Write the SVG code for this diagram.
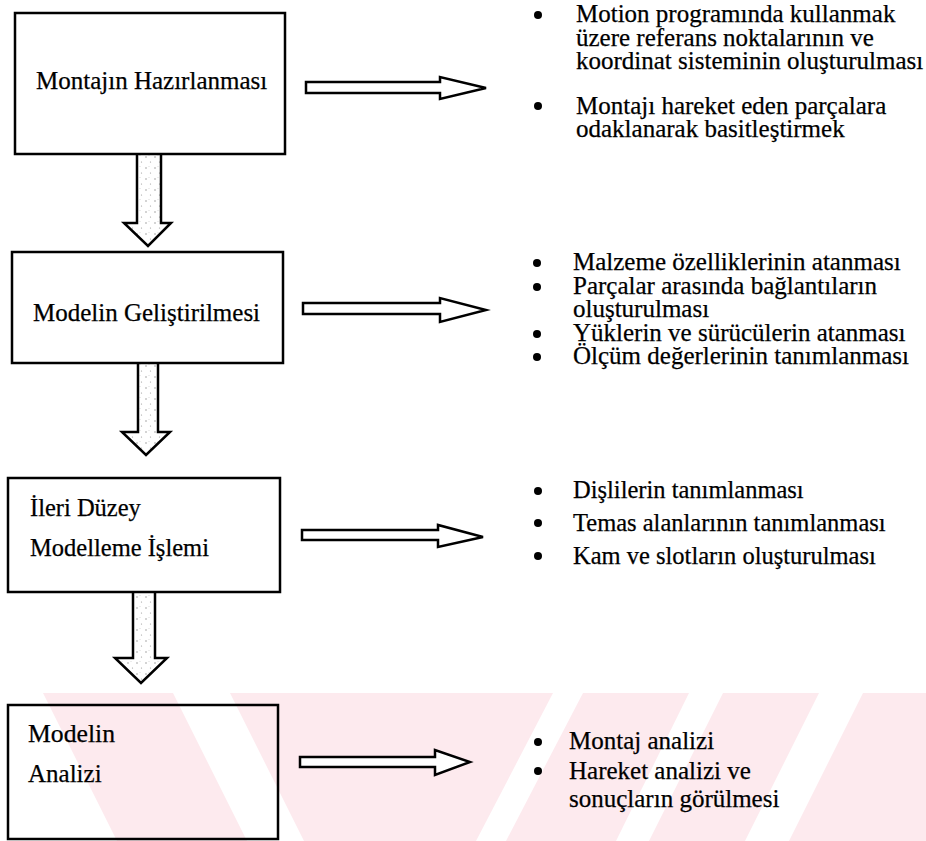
<svg xmlns="http://www.w3.org/2000/svg" width="926" height="841" viewBox="0 0 926 841">
<defs>
<pattern id="stip" width="9" height="11" patternUnits="userSpaceOnUse">
<rect width="9" height="11" fill="#ffffff"/>
<circle cx="2" cy="3" r="0.7" fill="#8a8a8a"/>
<circle cx="6.5" cy="8" r="0.6" fill="#9a9a9a"/>
<circle cx="5" cy="1.5" r="0.4" fill="#b0b0b0"/>
</pattern>
<style>
.box{fill:none;stroke:#000;stroke-width:2.5}
.t{font-size:25px;fill:#000;stroke:#000;stroke-width:0.25}
.s{font-size:24.5px}
.down{fill:url(#stip);stroke:#000;stroke-width:2.5;stroke-linejoin:miter}
.right{fill:#fff;stroke:#000;stroke-width:2.5;stroke-linejoin:miter}
.wm{fill:#fdeaee}
</style>
</defs>
<rect width="926" height="841" fill="#ffffff"/>
<g id="watermark">
<polygon class="wm" points="43,693 173,693 247,841 117,841"/>
<polygon class="wm" points="230,693 553,693 476,841 304,841"/>
<polygon class="wm" points="583,693 689,693 616,841 506,841"/>
<polygon class="wm" points="723,693 819,693 745,841 649,841"/>
<polygon class="wm" points="863,693 926,693 926,841 789,841"/>
</g>
<g id="connectors">
<path class="down" d="M137,154 L137,223 L124,223 L148,246 L171,223 L161,223 L161,154"/>
<path class="down" d="M138,363 L138,432 L122,432 L146,455 L170,432 L158,432 L158,363"/>
<path class="down" d="M133,592 L133,658 L115,658 L141,683 L167,658 L155,658 L155,592"/>
<path class="right" d="M306,82 L440,82 L440,77 L486,88 L440,99 L440,93 L306,93 Z"/>
<path class="right" d="M303,303 L440,303 L440,298 L486,310 L440,322 L440,314 L303,314 Z"/>
<path class="right" d="M302,530 L438,530 L438,525 L483,537 L438,547 L438,540 L302,540 Z"/>
<path class="right" d="M300,757 L435,757 L435,750 L470,762 L435,775 L435,767 L300,767 Z"/>
</g>
<g font-family="Liberation Serif, Times New Roman, DejaVu Serif, serif">
<g id="n1">
<rect class="box" x="15" y="13" width="270" height="141"/>
<text class="t" x="36" y="89">Montajın Hazırlanması</text>
</g>
<g id="n2">
<rect class="box" x="12" y="252" width="271" height="111"/>
<text class="t" x="33" y="321">Modelin Geliştirilmesi</text>
</g>
<g id="n3">
<rect class="box" x="8" y="478" width="272" height="114"/>
<text class="t s" x="30" y="516">İleri Düzey</text>
<text class="t s" x="30" y="556">Modelleme İşlemi</text>
</g>
<g id="n4">
<rect class="box" x="8" y="705" width="270" height="134"/>
<text class="t" x="28" y="742" textLength="87" lengthAdjust="spacingAndGlyphs">Modelin</text>
<text class="t" x="28" y="782">Analizi</text>
</g>
<g id="list1">
<circle cx="538" cy="15" r="4"/>
<circle cx="538" cy="106" r="4"/>
<text class="t" x="576" y="22">Motion programında kullanmak</text>
<text class="t" x="576" y="46">üzere referans noktalarının ve</text>
<text class="t" x="576" y="69">koordinat sisteminin oluşturulması</text>
<text class="t" x="576" y="114">Montajı hareket eden parçalara</text>
<text class="t" x="576" y="137">odaklanarak basitleştirmek</text>
</g>
<g id="list2">
<circle cx="537" cy="263" r="4"/>
<circle cx="537" cy="287" r="4"/>
<circle cx="537" cy="334" r="4"/>
<circle cx="537" cy="357" r="4"/>
<text class="t" x="573" y="270">Malzeme özelliklerinin atanması</text>
<text class="t" x="573" y="294">Parçalar arasında bağlantıların</text>
<text class="t" x="573" y="317">oluşturulması</text>
<text class="t" x="573" y="341">Yüklerin ve sürücülerin atanması</text>
<text class="t" x="573" y="364">Ölçüm değerlerinin tanımlanması</text>
</g>
<g id="list3">
<circle cx="538" cy="491" r="4"/>
<circle cx="538" cy="523" r="4"/>
<circle cx="538" cy="556" r="4"/>
<text class="t s" x="573" y="498">Dişlilerin tanımlanması</text>
<text class="t s" x="573" y="531">Temas alanlarının tanımlanması</text>
<text class="t s" x="573" y="564">Kam ve slotların oluşturulması</text>
</g>
<g id="list4">
<circle cx="538" cy="742" r="4"/>
<circle cx="538" cy="771" r="4"/>
<text class="t" x="569" y="749">Montaj analizi</text>
<text class="t" x="569" y="779">Hareket analizi ve</text>
<text class="t" x="569" y="807">sonuçların görülmesi</text>
</g>
</g>
</svg>
